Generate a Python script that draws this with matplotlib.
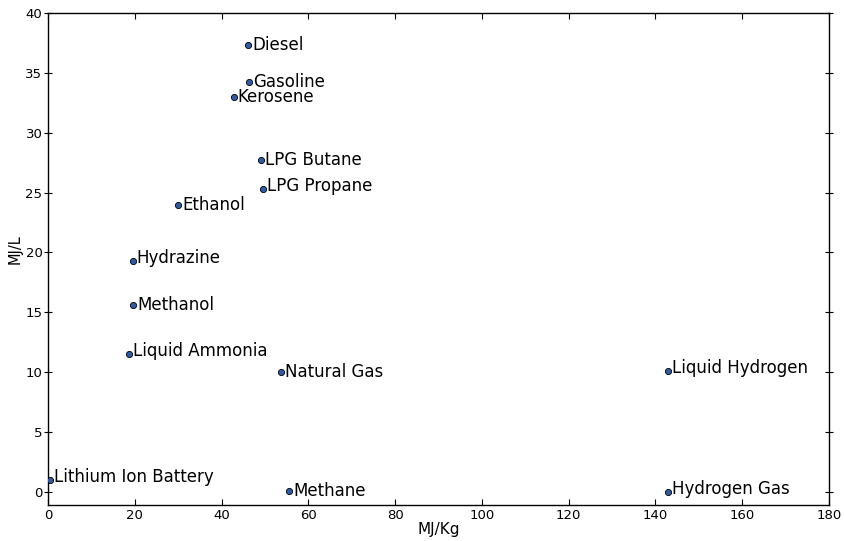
import matplotlib
matplotlib.use("Agg")
import matplotlib.pyplot as plt
from matplotlib.transforms import offset_copy

# Energy density of common fuels and storage media
fuels = [
    "Diesel", "Gasoline", "Kerosene", "LPG Butane", "LPG Propane",
    "Ethanol", "Hydrazine", "Methanol", "Liquid Ammonia", "Natural Gas",
    "Liquid Hydrogen", "Lithium Ion Battery", "Methane", "Hydrogen Gas",
]
mj_per_kg = [46.2, 46.4, 42.8, 49.1, 49.6, 30.0, 19.5, 19.7, 18.6, 53.6,
             143.0, 0.46, 55.6, 143.0]
mj_per_l = [37.3, 34.2, 33.0, 27.7, 25.3, 24.0, 19.3, 15.6, 11.5, 10.0,
            10.1, 1.0, 0.0364, 0.0107]

fig = plt.figure(figsize=(8.44, 5.41), dpi=100)
ax = fig.add_axes([48 / 844, 1 - 505 / 541, (829 - 48) / 844, (505 - 13) / 541])

ax.scatter(mj_per_kg, mj_per_l, s=20, color="#2f5ba6", edgecolors="black",
           linewidths=0.6, zorder=3)

# labels sit just right of each point, centred on their ink
plain = offset_copy(ax.transData, fig=fig, x=4, y=0, units="dots")
raised = offset_copy(ax.transData, fig=fig, x=4, y=3, units="dots")
for name, x, y in zip(fuels, mj_per_kg, mj_per_l):
    tr = raised if any(c in "jpqy" for c in name) else plain
    ax.text(x, y, name, fontsize=12, va="center", ha="left", transform=tr)

ax.set_xlim(0, 180)
ax.set_ylim(-1.1, 40)
ax.set_xticks(range(0, 181, 20))
ax.set_yticks(range(0, 41, 5))
ax.set_xlabel("MJ/Kg", fontsize=11, labelpad=0)
ax.set_ylabel("MJ/L", fontsize=10.5)
ax.yaxis.set_label_coords(-0.032, 0.52)
ax.tick_params(axis="both", which="major", direction="in", length=4,
               top=True, right=True, labelsize=9.5)
ax.tick_params(axis="x", pad=3)
ax.tick_params(axis="y", left=True, direction="inout", length=6, pad=1)
for sp in ax.spines.values():
    sp.set_linewidth(1.0)

fig.savefig("out.png", dpi=100)
